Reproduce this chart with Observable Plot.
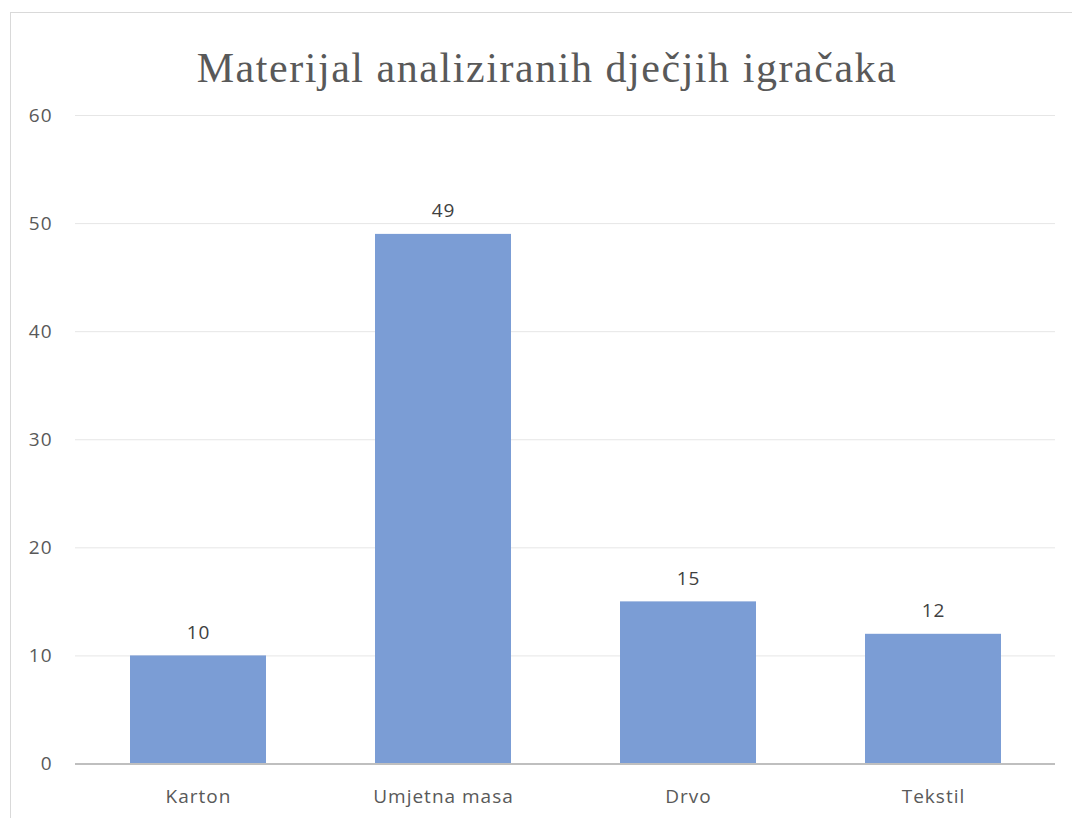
<!DOCTYPE html>
<html>
<head>
<meta charset="utf-8">
<script src="https://cdn.jsdelivr.net/npm/d3@7"></script>
<script src="https://cdn.jsdelivr.net/npm/@observablehq/plot@0.6"></script>
<style>
  html, body { margin: 0; padding: 0; background: #fff; }
  #wrap { position: relative; width: 1072px; height: 818px; overflow: hidden; }
  #frame { position: absolute; left: 10px; top: 12px; width: 1200px; height: 1000px; border-left: 1.5px solid #d9d9d9; border-top: 1.5px solid #d9d9d9; box-sizing: border-box; }
  #title { position: absolute; left: 0; top: 40px; width: 1072px; padding-left: 22px; box-sizing: border-box; text-align: center; font-family: "Liberation Serif", "DejaVu Serif", serif; font-size: 42px; letter-spacing: 1.55px; line-height: 56px; color: #595959; }
  #chart { position: absolute; left: 0; top: 100px; }
  #chart svg text { letter-spacing: 1px; }
</style>
</head>
<body>
<div id="wrap">
  <div id="frame"></div>
  <div id="title">Materijal analiziranih dječjih igračaka</div>
  <div id="chart"></div>
</div>
<script>
const categories = ["Karton", "Umjetna masa", "Drvo", "Tekstil"];
const values = [10, 49, 15, 12];
const yTicks = [0, 10, 20, 30, 40, 50, 60];

const data = categories.map((c, i) => ({category: c, value: values[i]}));

const plot = Plot.plot({
  width: 1072,
  height: 718,
  marginLeft: 75,
  marginRight: 17,
  marginTop: 15,
  marginBottom: 54.5,
  style: {fontFamily: "'Open Sans', sans-serif", fontSize: "19px", color: "#595959", background: "transparent"},
  x: {domain: categories, paddingInner: 0.445, paddingOuter: 0.2225, label: null},
  y: {domain: [0, 60], ticks: yTicks, label: null},
  marks: [
    Plot.gridY(yTicks.filter(d => d !== 0), {stroke: "#e6e6e6", strokeOpacity: 1, strokeWidth: 1}),
    Plot.barY(data, {x: "category", y: "value", fill: "#7b9dd5"}),
    Plot.ruleY([0], {stroke: "#bfbfbf", strokeWidth: 2}),
    Plot.axisY({ticks: yTicks, tickSize: 0, tickPadding: 23, label: null, fill: "#595959", fontSize: 19}),
    Plot.axisX({tickSize: 0, tickPadding: 25, label: null, fill: "#595959", fontSize: 19}),
    Plot.text(data, {x: "category", y: "value", text: d => String(d.value), lineAnchor: "bottom", dy: -17, fill: "#404040", fontSize: 19})
  ]
});
document.getElementById("chart").appendChild(plot);
</script>
</body>
</html>
